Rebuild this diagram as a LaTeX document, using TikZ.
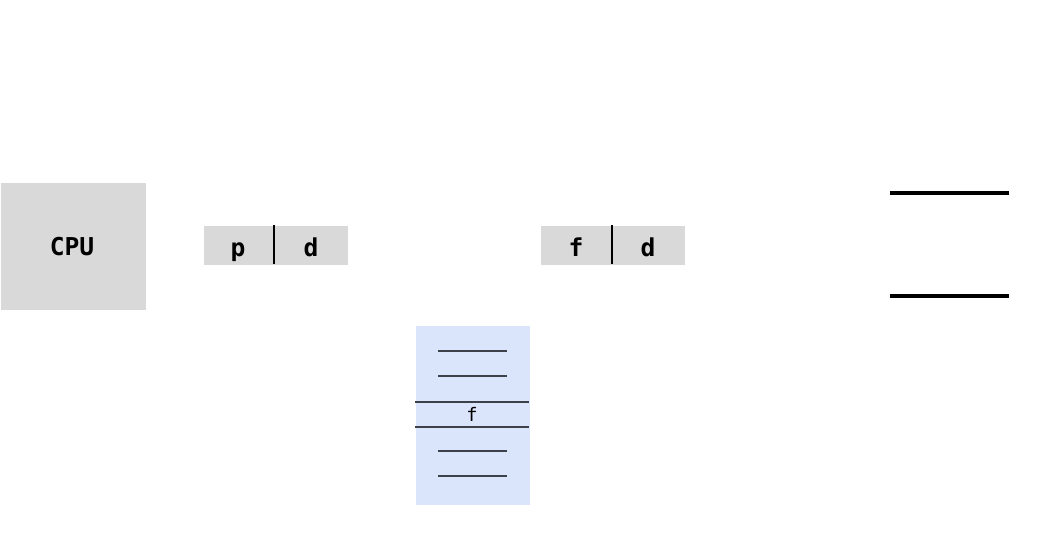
\documentclass[tikz,border=0pt]{standalone}
\usepackage{fontspec}
\setmainfont{DejaVu Sans Mono}
\usetikzlibrary{positioning}

\definecolor{tableblue}{HTML}{DAE4FA}
\definecolor{slotgray}{HTML}{3C4048}

\tikzset{
  graybox/.style={fill=black!15, inner sep=0pt},
  slotline/.style={draw=slotgray, line width=0.45pt},
  bigtext/.style={inner sep=0pt, anchor=base, font=\fontsize{7}{7}\selectfont\bfseries}
}

\begin{document}
\begin{tikzpicture}[x=0.01cm, y=-0.01cm]
      \useasboundingbox (0,0) rectangle (1048,533);

      % 1. CPU
      \node[graybox, minimum width=1.45cm, minimum height=1.27cm, anchor=north west]
        (cpu) at (0,182) {};
      \node[bigtext] (cpulabel) at (72,255) {CPU};

      % 2. Logical address
      \node[graybox, minimum width=1.44cm, minimum height=0.39cm, anchor=north west]
        (logical) at (203,225) {};
      \draw[line width=0.5pt] (274,225) -- (274,264);
      \node[bigtext] (lp) at (238,256) {p};
      \node[bigtext] (ld) at (311,256) {d};

      % 3. Physical address
      \node[graybox, minimum width=1.44cm, minimum height=0.39cm, anchor=north west]
        (physical) at (540,225) {};
      \draw[line width=0.5pt] (612,225) -- (612,264);
      \node[bigtext] (pf) at (576,256) {f};
      \node[bigtext] (pd) at (648,256) {d};

      % 4. Page table
      \node[fill=tableblue, inner sep=0pt, minimum width=1.14cm, minimum height=1.79cm,
        anchor=north west] (table) at (415,325) {};
      \foreach \y in {351,376,451,476}
        \draw[slotline] (438,\y) -- (507,\y);
      \draw[slotline] (415,402) -- (529,402);
      \draw[slotline] (415,427) -- (529,427);
      \node[inner sep=0pt, anchor=base, font=\fontsize{5.3}{5.3}\selectfont] (tf) at (472,421) {f};

      % 5. Physical memory
      \draw[line width=0.9pt] (890,193) -- (1009,193);
      \draw[line width=0.9pt] (890,296) -- (1009,296);

\end{tikzpicture}
\end{document}
